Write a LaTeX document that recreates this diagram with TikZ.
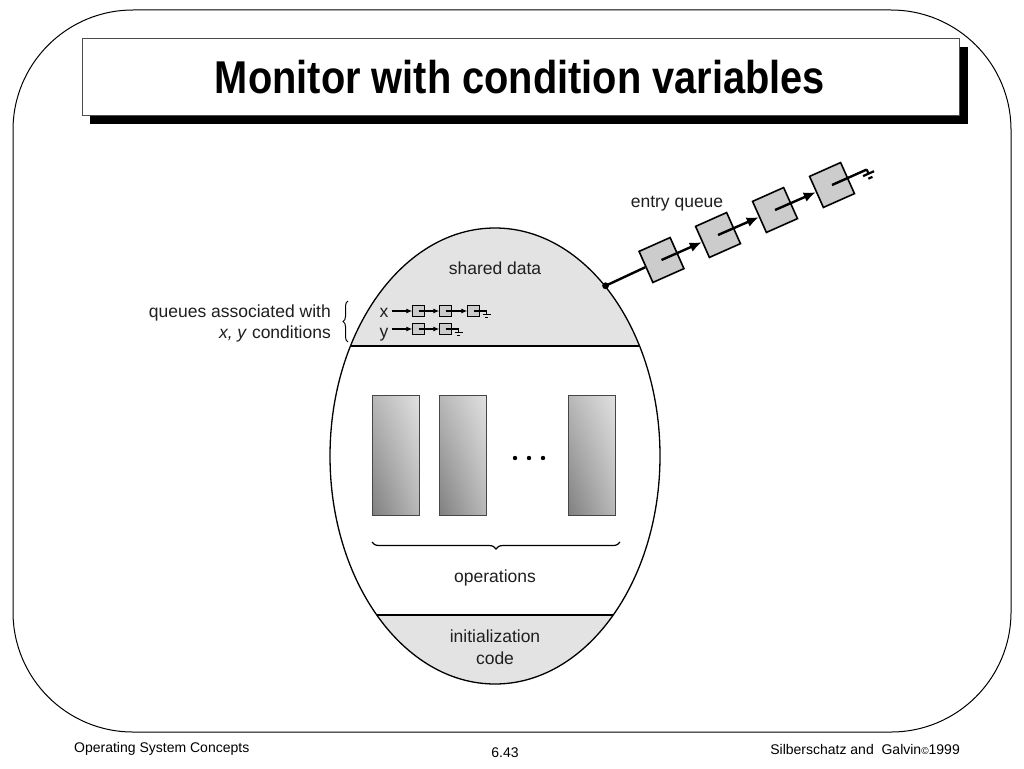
\documentclass[tikz,border=0pt]{standalone}
\usepackage{fontspec}
\setmainfont{Liberation Sans}
\usetikzlibrary{arrows.meta,decorations.pathreplacing,calc,shapes.geometric,shadings}
\definecolor{regfill}{gray}{0.89}
\definecolor{boxfill}{gray}{0.80}
\definecolor{opdark}{gray}{0.50}
\definecolor{oplight}{gray}{0.88}
\definecolor{opmid}{gray}{0.72}
\definecolor{txt}{gray}{0.12}
\begin{document}
\begin{tikzpicture}[x=1pt,y=-1pt,
  lbl/.style={font=\fontsize{17.5}{22}\selectfont, text=txt, inner sep=0pt},
  ftext/.style={font=\fontsize{14}{17}\selectfont, inner sep=0pt},
  sbox/.style={draw, fill=boxfill, minimum size=11.5pt, inner sep=0pt, line width=0.9pt},
  ebox/.style={draw, fill=boxfill, minimum size=34pt, inner sep=0pt, line width=1.6pt, rotate=24},
  sptr/.style={line width=1.3pt, -{Latex[length=6pt,width=5pt]}},
  eptr/.style={line width=2.4pt, -{Latex[length=12pt,width=10pt]}},
  eline/.style={line width=2.4pt},
  opbox/.style={draw=gray!55!black, line width=0.8pt},
  nullp/.pic={\draw (0,0) -- (0,3); \draw (-4,3) -- (4,3); \draw (-1.5,6) -- (1.5,6);}
]
\useasboundingbox (0,0) rectangle (1024,768);
\fill[white] (0,0) rectangle (1024,768);

% outer frame
\draw[line width=1pt, rounded corners=120pt] (13,10) rectangle (1011,732);

% title
\fill[black] (90,47) rectangle (968,124);
\draw[fill=white, draw=gray!60!black, line width=0.8pt] (82,38) rectangle (959,115);
\node[font=\fontsize{46}{54}\selectfont\bfseries, inner sep=0pt] (title) at (520,77) {\scalebox{0.865}[1]{Monitor with condition variables}};

% monitor ellipse
\begin{scope}
  \clip (495,456) ellipse [x radius=165, y radius=228];
  \fill[regfill] (300,200) rectangle (700,346);
  \fill[regfill] (300,615) rectangle (700,720);
  \draw[line width=1.3pt] (300,346) -- (700,346);
  \draw[line width=1.3pt] (300,615) -- (700,615);
\end{scope}
\node[ellipse, draw, line width=1.3pt, minimum width=330pt, minimum height=456pt, inner sep=0pt] (mon) at (495,456) {};

% region labels
\node[lbl, anchor=base] (sd) at (495,274) {shared data};
\node[lbl, anchor=base] (ops) at (495,582) {operations};
\node[lbl, anchor=base] (init1) at (495,642) {initialization};
\node[lbl, anchor=base] (init2) at (495,664) {code};

% operations
\foreach \xa/\nm in {372/op1, 439/op2, 568/op3}{
  \shade[upper right=oplight, lower left=opdark, upper left=opmid, lower right=opmid] (\xa,395) rectangle ++(47,120);
  \draw[opbox] (\xa,395) rectangle ++(47,120);
}
\fill[black] (515,458) circle (2.2);
\fill[black] (529,458) circle (2.2);
\fill[black] (543,458) circle (2.2);
\draw[line width=1.2pt, decorate, decoration={brace, amplitude=7pt, mirror}] (372,542) -- (620,542);

% condition queues
\node[lbl, anchor=base east] (q1) at (331,317) {queues associated with};
\node[lbl, anchor=base east] (q2) at (331,338) {\textit{x, y} conditions};
\draw[line width=1pt, decorate, decoration={brace, amplitude=5pt}] (348,342) -- (348,301);

\node[lbl, anchor=base] (xl) at (384,317) {x};
\node[lbl, anchor=base] (yl) at (384,337) {y};
\node[sbox] (x1) at (418.5,311) {};
\node[sbox] (x2) at (445.5,311) {};
\node[sbox] (x3) at (473.5,311) {};
\node[sbox] (y1) at (418.5,329) {};
\node[sbox] (y2) at (445.5,329) {};
\draw[sptr] ([xshift=3pt]xl.east |- x1) -- (x1);
\draw[sptr] (x1.center) -- (x2);
\draw[sptr] (x2.center) -- (x3);
\draw[line width=1.2pt] (x3.center) -- ++(13,0) coordinate (xn);
\pic[line width=1pt] at (xn) {nullp};
\draw[sptr] ([xshift=3pt]yl.east |- y1) -- (y1);
\draw[sptr] (y1.center) -- (y2);
\draw[line width=1.2pt] (y2.center) -- ++(13,0) coordinate (yn);
\pic[line width=1pt] at (yn) {nullp};

% entry queue
\node[lbl, anchor=base] (eq) at (677,207) {entry queue};
\coordinate (entry) at (mon.57);
\node[ebox] (e1) at (661.5,260) {};
\node[ebox] (e2) at (718,235) {};
\node[ebox] (e3) at (775,210) {};
\node[ebox] (e4) at (832,185) {};
\draw[eline] (entry) -- (e1.west);
\fill[black] (entry) circle (3.4);
\draw[eptr] (e1.center) -- (e2.west);
\draw[eptr] (e2.center) -- (e3.west);
\draw[eptr] (e3.center) -- (e4.west);
\draw[eline] (e4.center) -- ++(-24:38) coordinate (eg);
\pic[rotate=24, scale=1.5, line width=2.2pt] at (eg) {nullp};

% footer
\node[ftext, anchor=base west] (f1) at (74,752) {Operating System Concepts};
\node[ftext, anchor=base] (f2) at (505,757) {6.43};
\node[ftext, anchor=base east] (f3) at (960,754) {Silberschatz and\ \ Galvin{\fontsize{10}{12}\selectfont\textcopyright}1999};
\end{tikzpicture}
\end{document}
